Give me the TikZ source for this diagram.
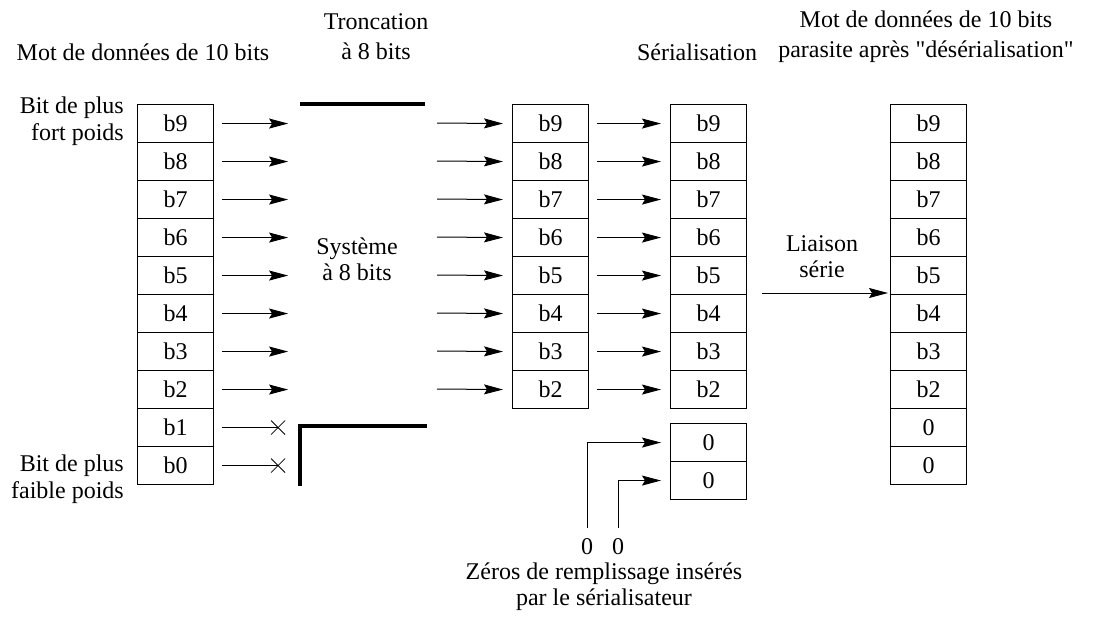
\documentclass[tikz,border=0pt]{standalone}
\usepackage{fontspec}
\setmainfont{Liberation Serif}
\newfontfamily\rawserif{Liberation Serif}
\usetikzlibrary{arrows.meta}
\begin{document}
\begin{tikzpicture}[x=1pt,y=-1pt,
  every node/.style={font=\fontsize{24}{28}\selectfont},
  cell/.style={draw,line width=1.1pt,minimum width=76pt,minimum height=38pt,inner sep=0pt,anchor=north west},
  conn/.style={line width=1pt,-{Stealth[length=19pt,width=10pt,inset=3pt]}},
  wire/.style={line width=1pt},
  bar/.style={line width=3.5pt},
  lbl/.style={align=center,inner sep=0pt},
  rlbl/.style={align=right,inner sep=0pt,anchor=east}]
\useasboundingbox (0,0) rectangle (1105,621);
% headers
\node[lbl] (h1) at (143,52) {Mot de données de 10 bits};
\node[lbl,font=\fontsize{24}{30}\selectfont] (h2) at (376,37) {Troncation\\à 8 bits};
\node[lbl] (h3) at (697,52) {Sérialisation};
\node[lbl,font=\fontsize{24}{30}\selectfont] (h4) at (926,37) {Mot de données de 10 bits\\parasite après {\rawserif"}désérialisation{\rawserif"}};
\node[rlbl,font=\fontsize{24}{27}\selectfont] (msb) at (124,121) {Bit de plus\\fort poids};
\node[rlbl,font=\fontsize{24}{27}\selectfont] (lsb) at (124,479) {Bit de plus\\faible poids};
% left column
\foreach \b [count=\i from 0] in {9,8,7,6,5,4,3,2,1,0} {
  \node[cell] (L\b) at (137,104+38*\i) {b\b};
}
\foreach \b [count=\i from 0] in {9,8,7,6,5,4,3,2} {
  \node[cell] (M\b) at (512,104+38*\i) {b\b};
  \node[cell] (S\b) at (670,104+38*\i) {b\b};
  \draw[conn] ([xshift=8pt]L\b.east) -- ++(66,0);
  \draw[conn] (437,123+38*\i) -- ([xshift=-9pt]M\b.west);
  \draw[conn] ([xshift=8pt]M\b.east) -- ([xshift=-9pt]S\b.west);
}
\foreach \b [count=\i from 0] in {9,8,7,6,5,4,3,2} {
  \node[cell] (R\b) at (890,104+38*\i) {b\b};
}
\node[cell] (R1) at (890,408) {0};
\node[cell] (R0) at (890,446) {0};
% truncated bits
\foreach \b in {1,0} {
  \draw[wire] ([xshift=8pt]L\b.east) -- ++(56,0) coordinate (x\b);
  \draw[line width=0.8pt] ([shift={(-7,-7)}]x\b) -- ([shift={(7,7)}]x\b)
                          ([shift={(-7,7)}]x\b) -- ([shift={(7,-7)}]x\b);
}
% 8-bit system
\draw[bar] (300,104) -- (425,104);
\draw[bar,line cap=rect] (300,484) -- (300,426) -- (425,426);
\node[lbl,font=\fontsize{24}{26}\selectfont] (sys) at (357,259) {Système\\à 8 bits};
% zero padding
\node[cell] (Z1) at (670,423) {0};
\node[cell] (Z0) at (670,461) {0};
\node[inner sep=1pt] (z1) at (587,547) {0};
\node[inner sep=1pt] (z0) at (618,547) {0};
\coordinate (c1) at (587,528);
\coordinate (c0) at (618,528);
\draw[conn] (c1) |- ([xshift=-9pt]Z1.west);
\draw[conn] (c0) |- ([xshift=-9pt]Z0.west);
\node[lbl,font=\fontsize{24}{26}\selectfont] (zlab) at (604,587) {Zéros de remplissage insérés\\par le sérialisateur};
% serial link
\coordinate (ls) at (762,293);
\draw[conn] (ls) -- (888,293);
\node[lbl,font=\fontsize{24}{26}\selectfont] (liaison) at (822,257) {Liaison\\série};
\end{tikzpicture}
\end{document}
